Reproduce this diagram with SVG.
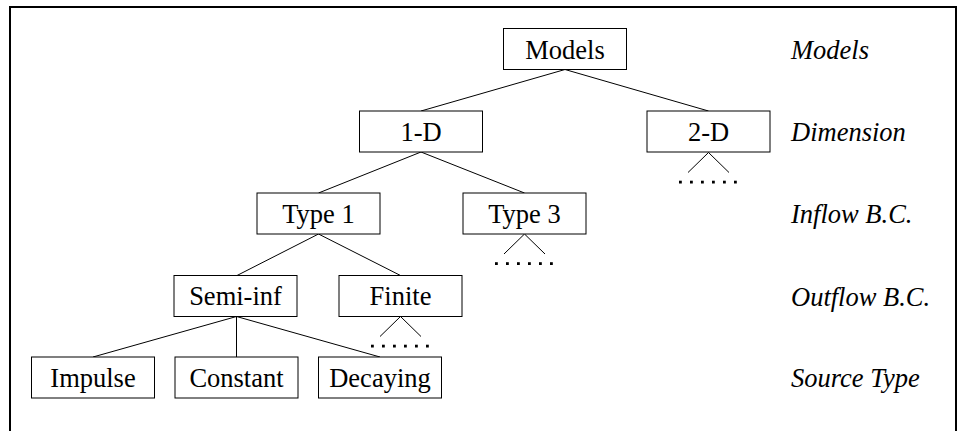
<svg xmlns="http://www.w3.org/2000/svg" width="959" height="431" viewBox="0 0 959 431">
  <style>
    .box { fill: #fff; stroke: #000; stroke-width: 1; }
    .lbl { font-family: 'Liberation Serif', 'Times New Roman', serif; font-size: 26.5px; fill: #000; text-anchor: middle; }
    .lvl { font-family: 'Liberation Serif', 'Times New Roman', serif; font-size: 26.5px; font-style: italic; fill: #000; }
    .edge { stroke: #000; stroke-width: 1; fill: none; }
    .dot { fill: #000; }
  </style>
  <defs>
    <!-- "more children" marker: two stubs and a row of six dots -->
    <g id="more">
      <path class="edge" d="M0,0 L-20.5,20 M0,0 L20.5,20"/>
      <rect class="dot" x="-29.5" y="28.2" width="2.8" height="2.8"/>
      <rect class="dot" x="-18.5" y="28.2" width="2.8" height="2.8"/>
      <rect class="dot" x="-7.5" y="28.2" width="2.8" height="2.8"/>
      <rect class="dot" x="3.5" y="28.2" width="2.8" height="2.8"/>
      <rect class="dot" x="14.5" y="28.2" width="2.8" height="2.8"/>
      <rect class="dot" x="25.5" y="28.2" width="2.8" height="2.8"/>
    </g>
  </defs>

  <rect x="0" y="0" width="959" height="431" fill="#fff"/>
  <!-- frame -->
  <rect x="10" y="7" width="946" height="440" fill="none" stroke="#000" stroke-width="2"/>

  <!-- connectors -->
  <g id="connectors">
    <path class="edge" d="M565,69.5 L421,111"/>
    <path class="edge" d="M565,69.5 L708.5,111"/>
    <path class="edge" d="M421,152 L318.5,193"/>
    <path class="edge" d="M421,152 L524.5,193"/>
    <path class="edge" d="M318.5,234 L237,275.5"/>
    <path class="edge" d="M318.5,234 L400.5,275.5"/>
    <path class="edge" d="M236.5,316.5 L93,357"/>
    <path class="edge" d="M236.5,316.5 L236.5,357"/>
    <path class="edge" d="M236.5,316.5 L380,357"/>
    <use href="#more" x="708.5" y="152.5"/>
    <use href="#more" x="524.5" y="234"/>
    <use href="#more" x="400.5" y="316.5"/>
  </g>

  <!-- nodes -->
  <g id="models">
    <rect class="box" x="503.5" y="28.5" width="123" height="41"/>
    <text class="lbl" x="565" y="58.5">Models</text>
  </g>
  <g id="dim1d">
    <rect class="box" x="359.5" y="111" width="123" height="41"/>
    <text class="lbl" x="421" y="141">1-D</text>
  </g>
  <g id="dim2d">
    <rect class="box" x="647" y="111" width="123" height="41"/>
    <text class="lbl" x="708.5" y="141">2-D</text>
  </g>
  <g id="type1">
    <rect class="box" x="257" y="193" width="123" height="41"/>
    <text class="lbl" x="318.5" y="223">Type 1</text>
  </g>
  <g id="type3">
    <rect class="box" x="463" y="193" width="123" height="41"/>
    <text class="lbl" x="524.5" y="223">Type 3</text>
  </g>
  <g id="semiinf">
    <rect class="box" x="174" y="275.5" width="123" height="41"/>
    <text class="lbl" x="235.5" y="305">Semi-inf</text>
  </g>
  <g id="finite">
    <rect class="box" x="339" y="275.5" width="123" height="41"/>
    <text class="lbl" x="400.5" y="305">Finite</text>
  </g>
  <g id="impulse">
    <rect class="box" x="31.5" y="357" width="123" height="41"/>
    <text class="lbl" x="93" y="386.5">Impulse</text>
  </g>
  <g id="constant">
    <rect class="box" x="175" y="357" width="123" height="41"/>
    <text class="lbl" x="236.5" y="386.5">Constant</text>
  </g>
  <g id="decaying">
    <rect class="box" x="318.5" y="357" width="123" height="41"/>
    <text class="lbl" x="380" y="386.5">Decaying</text>
  </g>

  <!-- level captions -->
  <g id="levels">
    <text class="lvl" x="791" y="59">Models</text>
    <text class="lvl" x="791" y="141">Dimension</text>
    <text class="lvl" x="791" y="223">Inflow B.C.</text>
    <text class="lvl" x="791" y="306">Outflow B.C.</text>
    <text class="lvl" x="791" y="387">Source Type</text>
  </g>
</svg>
